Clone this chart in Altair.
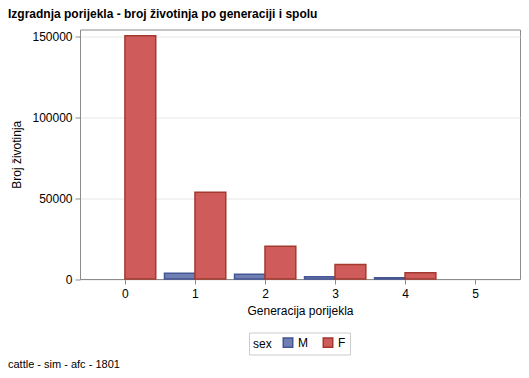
import altair as alt
import pandas as pd

generations = [0, 1, 2, 3, 4, 5]
male = [0, 3500, 2900, 1400, 800, 0]
female = [150600, 53700, 20300, 8900, 3900, 0]
sexes = ["M", "F"]

title_text = "Izgradnja porijekla - broj životinja po generaciji i spolu"
footnote = "cattle - sim - afc - 1801"

rows = []
for g, m, f in zip(generations, male, female):
    rows.append({"gen": g, "sex": "M", "count": m})
    rows.append({"gen": g, "sex": "F", "count": f})
df = pd.DataFrame(rows)

FONT = "Liberation Sans"

xscale = alt.Scale(domain=[-0.57, 5.57], nice=False, zero=False)
yscale = alt.Scale(domain=[0, 154400], nice=False)

bars = alt.Chart(df).transform_filter(
    alt.datum["count"] > 0
).transform_calculate(
    x1="datum.gen + (datum.sex == 'M' ? -0.435 : 0)",
    x2="datum.gen + (datum.sex == 'M' ? 0 : 0.44)",
).mark_bar(strokeWidth=1.5, opacity=1, orient="vertical").encode(
    x=alt.X("x1:Q", scale=xscale,
            axis=alt.Axis(values=generations, format="d", title="Generacija porijekla",
                          grid=False, tickSize=5, labelPadding=4, titlePadding=6,
                          labelFontSize=12, titleFontSize=12, titleFontWeight="normal",
                          domainColor="#8c8c8c", tickColor="#8c8c8c",
                          labelColor="#000000", titleColor="#000000",
                          labelFont=FONT, titleFont=FONT)),
    x2="x2:Q",
    y=alt.Y("count:Q", scale=yscale,
            axis=alt.Axis(values=[0, 50000, 100000, 150000], format="d",
                          title="Broj životinja", grid=True, gridColor="#e6e6e6",
                          tickSize=5, labelPadding=3, titlePadding=8,
                          labelFontSize=12, titleFontSize=12, titleFontWeight="normal",
                          domainColor="#8c8c8c", tickColor="#8c8c8c",
                          labelColor="#000000", titleColor="#000000",
                          labelFont=FONT, titleFont=FONT)),
    y2=alt.Y2(datum=0),
    fill=alt.Fill("sex:N", scale=alt.Scale(domain=sexes, range=["#6F7EB3", "#D05B5B"]),
                  sort=sexes,
                  legend=alt.Legend(title="sex", orient="none", direction="horizontal",
                                    legendX=169, legendY=303, titleOrient="left",
                                    strokeColor="#cccccc", padding=4,
                                    symbolType="square", symbolSize=90,
                                    titleFontSize=12, labelFontSize=12,
                                    titleFontWeight="normal", titleFont=FONT, labelFont=FONT,
                                    titleColor="#000000", labelColor="#000000",
                                    columnPadding=12, titlePadding=10)),
    stroke=alt.Stroke("sex:N", scale=alt.Scale(domain=sexes, range=["#445694", "#A23A2E"]),
                      sort=sexes, legend=alt.Legend(title="sex")),
)

title = alt.Chart(pd.DataFrame({"t": [title_text]})).mark_text(
    align="left", baseline="alphabetic", fontSize=12, fontWeight="bold", font=FONT, color="#000000"
).encode(x=alt.value(-72), y=alt.value(-12), text="t:N")

foot = alt.Chart(pd.DataFrame({"t": [footnote]})).mark_text(
    align="left", baseline="alphabetic", fontSize=11, font=FONT, color="#000000"
).encode(x=alt.value(-72), y=alt.value(338), text="t:N")

chart = alt.layer(bars, title, foot).properties(
    width=440, height=249.5,
    autosize=alt.AutoSizeParams(type="none"),
    padding={"left": 80, "top": 29.5, "right": 9, "bottom": 99},
    background="white",
).configure_view(stroke="#8c8c8c", strokeWidth=1)

chart.save("out.html", embed_options={"renderer": "svg", "actions": False})
